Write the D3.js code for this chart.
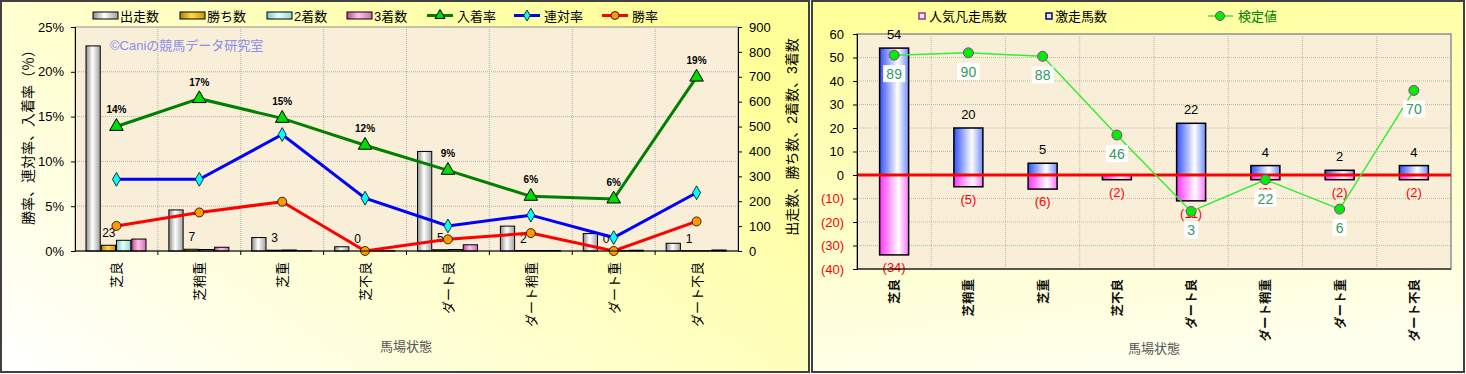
<!DOCTYPE html>
<html>
<head>
<meta charset="utf-8">
<title>馬場状態別成績</title>
<script src="https://d3js.org/d3.v7.min.js"></script>
<style>
  body { margin: 0; background: #fff; }
  svg text { font-family: "Liberation Sans", "Noto Sans CJK JP", sans-serif; }
</style>
</head>
<body>
<script>
// ---- data ----
var categories = ['芝良', '芝稍重', '芝重', '芝不良', 'ダート良', 'ダート稍重', 'ダート重', 'ダート不良'];

// left chart: counts
var runs   = [824, 165, 54, 17, 400, 100, 70, 31];
var wins   = [23, 7, 3, 0, 5, 2, 0, 1];
var second = [43, 6, 4, 1, 6, 2, 1, 1];
var third  = [48, 15, 1, 1, 25, 2, 3, 4];
// left chart: rates (%)
var placeRate   = [13.9, 17.0, 14.8, 11.8, 9.0, 6.1, 5.8, 19.4];
var rentaiRate  = [8.0, 8.0, 13.0, 5.9, 2.8, 4.0, 1.5, 6.5];
var winRate     = [2.8, 4.3, 5.5, 0, 1.3, 2.0, 0, 3.3];
var placeLabels = ['14%', '17%', '15%', '12%', '9%', '6%', '6%', '19%'];

var pctTicks = [0, 5, 10, 15, 20, 25];
var cntTicks = [0, 100, 200, 300, 400, 500, 600, 700, 800, 900];

// right chart
var gekisou   = [54, 20, 5, 0, 22, 4, 2, 4];
var bonsou    = [-34, -5, -6, -2, -11, -2, -2, -2];
var kenteiPos = [51, 52, 50.5, 17, -15.5, -2, -14.5, 36];
var kenteiVal = [89, 90, 88, 46, 3, 22, 6, 70];
var rightTicks = [-40, -30, -20, -10, 0, 10, 20, 30, 40, 50, 60];

var W = 1466, H = 374;
var svg = d3.select('body').append('svg').attr('width', W).attr('height', H);
var defs = svg.append('defs');

function cyl(id, c0, c1, c2, mid) {
  var g = defs.append('linearGradient').attr('id', id).attr('x1', 0).attr('x2', 1).attr('y1', 0).attr('y2', 0);
  g.append('stop').attr('offset', 0).attr('stop-color', c0);
  g.append('stop').attr('offset', mid || 0.5).attr('stop-color', c1);
  g.append('stop').attr('offset', 1).attr('stop-color', c2);
}
cyl('gSilver', '#8c8c8c', '#ffffff', '#a0a0a0', 0.45);
cyl('gGold', '#b08000', '#ffd84a', '#c89a00', 0.45);
cyl('gCyan', '#78c8c8', '#e6ffff', '#90d8d8', 0.45);
cyl('gPink', '#c04890', '#ffc4ea', '#d070b0', 0.45);
cyl('gBlue', '#3050ff', '#ffffff', '#6f8cff', 0.62);
cyl('gMag', '#ff30ff', '#ffffff', '#ff70ff', 0.65);

var bgL = defs.append('linearGradient').attr('id', 'bgL').attr('x1', 0).attr('y1', 1).attr('x2', 1).attr('y2', 0.3);
bgL.append('stop').attr('offset', 0).attr('stop-color', '#ffffff');
bgL.append('stop').attr('offset', 1).attr('stop-color', '#ffff99');
var bgR = defs.append('linearGradient').attr('id', 'bgR').attr('x1', 0.2).attr('y1', 0).attr('x2', 0.4).attr('y2', 1);
bgR.append('stop').attr('offset', 0).attr('stop-color', '#ffff99');
bgR.append('stop').attr('offset', 1).attr('stop-color', '#ffffee');

// panels
svg.append('rect').attr('x', 1).attr('y', 1).attr('width', 808).attr('height', 371)
  .attr('fill', 'url(#bgL)').attr('stroke', '#404040').attr('stroke-width', 2);
svg.append('rect').attr('x', 812).attr('y', 1).attr('width', 652).attr('height', 371)
  .attr('fill', 'url(#bgR)').attr('stroke', '#404040').attr('stroke-width', 2);

// ================= LEFT CHART =================
var x = d3.scaleBand().domain(categories).range([75, 738]);
var yPct = d3.scaleLinear().domain([0, 25]).range([251, 27]);
var yCnt = d3.scaleLinear().domain([0, 900]).range([251, 27]);
var barKeys = ['runs', 'wins', 'second', 'third'];
var sub = d3.scaleBand().domain(barKeys).range([11, 72]);
var barFill = { runs: 'url(#gSilver)', wins: 'url(#gGold)', second: 'url(#gCyan)', third: 'url(#gPink)' };
var barData = { runs: runs, wins: wins, second: second, third: third };

var L = svg.append('g');
L.append('rect').attr('x', 75).attr('y', 27).attr('width', 663).attr('height', 224)
  .attr('fill', '#f9eed8').attr('stroke', '#909090');

// grid
L.append('g').selectAll('line.h').data(pctTicks.slice(1, -1)).enter().append('line')
  .attr('x1', 75).attr('x2', 738).attr('y1', function(d) { return yPct(d); }).attr('y2', function(d) { return yPct(d); })
  .attr('stroke', '#b0b0b0').attr('stroke-dasharray', '1,1');
L.append('g').selectAll('line.v').data(categories.slice(1)).enter().append('line')
  .attr('x1', function(d) { return x(d); }).attr('x2', function(d) { return x(d); })
  .attr('y1', 27).attr('y2', 251)
  .attr('stroke', '#b0b0b0').attr('stroke-dasharray', '1,1');

L.append('text').attr('x', 110).attr('y', 50).attr('fill', '#8a8cf0').attr('font-size', 13)
  .text('©Caniの競馬データ研究室');

// bars
barKeys.forEach(function(k) {
  L.append('g').selectAll('rect').data(categories).enter().append('rect')
    .attr('x', function(d) { return x(d) + sub(k); })
    .attr('width', sub.bandwidth() - 1)
    .attr('y', function(d, i) { return yCnt(barData[k][i]); })
    .attr('height', function(d, i) { return 251 - yCnt(barData[k][i]); })
    .attr('fill', barFill[k]).attr('stroke', '#000').attr('stroke-width', 1);
});
// win count labels
L.append('g').selectAll('text').data(categories).enter().append('text')
  .attr('x', function(d) { return x(d) + sub('wins') + sub.bandwidth() / 2; })
  .attr('y', function(d, i) { return yCnt(wins[i]) - 8; })
  .attr('text-anchor', 'middle').attr('font-size', 12).attr('fill', '#000')
  .text(function(d, i) { return wins[i]; });

var cx = function(d) { return x(d) + x.bandwidth() / 2; };
function drawLine(vals, color) {
  L.append('path').datum(vals)
    .attr('d', d3.line().x(function(d, i) { return cx(categories[i]); }).y(function(d) { return yPct(d); }))
    .attr('fill', 'none').attr('stroke', color).attr('stroke-width', 3);
}
drawLine(placeRate, '#008000');
drawLine(rentaiRate, '#0000ff');
drawLine(winRate, '#ff0000');

var tri = d3.symbol().type(d3.symbolTriangle).size(80);
var dia = d3.symbol().type(d3.symbolDiamond).size(55);
L.append('g').selectAll('path').data(placeRate).enter().append('path')
  .attr('d', tri).attr('transform', function(d, i) { return 'translate(' + cx(categories[i]) + ',' + yPct(d) + ')'; })
  .attr('fill', '#00dd00').attr('stroke', '#000');
L.append('g').selectAll('path').data(rentaiRate).enter().append('path')
  .attr('d', dia).attr('transform', function(d, i) { return 'translate(' + cx(categories[i]) + ',' + yPct(d) + ')'; })
  .attr('fill', '#00ffff').attr('stroke', '#000').attr('stroke-width', 0.8);
L.append('g').selectAll('circle').data(winRate).enter().append('circle')
  .attr('cx', function(d, i) { return cx(categories[i]); }).attr('cy', function(d) { return yPct(d); })
  .attr('r', 4.5).attr('fill', '#ff9900').attr('stroke', '#000').attr('stroke-width', 0.8);
L.append('g').selectAll('text').data(placeRate).enter().append('text')
  .attr('x', function(d, i) { return cx(categories[i]); }).attr('y', function(d) { return yPct(d) - 13; })
  .attr('text-anchor', 'middle').attr('font-size', 10).attr('font-weight', 'bold')
  .text(function(d, i) { return placeLabels[i]; });

// axes
var axL = L.append('g').attr('transform', 'translate(75,0)')
  .call(d3.axisLeft(yPct).tickValues(pctTicks).tickSize(4).tickFormat(function(d) { return d + '%'; }));
axL.select('.domain').attr('stroke', '#000');
axL.selectAll('text').attr('font-size', 13).attr('fill', '#000').attr('dx', '-4');
var axR = L.append('g').attr('transform', 'translate(738,0)')
  .call(d3.axisRight(yCnt).tickValues(cntTicks).tickSize(4));
axR.select('.domain').attr('stroke', '#000');
axR.selectAll('text').attr('font-size', 13).attr('fill', '#000').attr('dx', '4');
L.append('line').attr('x1', 75).attr('x2', 738).attr('y1', 251).attr('y2', 251).attr('stroke', '#000');
L.append('g').selectAll('line').data(categories.slice(1)).enter().append('line')
  .attr('x1', function(d) { return x(d); }).attr('x2', function(d) { return x(d); })
  .attr('y1', 251).attr('y2', 255).attr('stroke', '#000');

L.append('g').selectAll('text').data(categories).enter().append('text')
  .attr('transform', function(d) { return 'translate(' + (cx(d) + 5) + ',262) rotate(-90)'; })
  .attr('text-anchor', 'end').attr('font-size', 13).attr('fill', '#000')
  .text(function(d) { return d; });

L.append('text').attr('transform', 'translate(33,134) rotate(-90)').attr('text-anchor', 'middle')
  .attr('font-size', 14).attr('fill', '#000').text('勝率、連対率、入着率（％）');
L.append('text').attr('transform', 'translate(797,137) rotate(-90)').attr('text-anchor', 'middle')
  .attr('font-size', 14).attr('fill', '#000').text('出走数、勝ち数、2着数、3着数');
L.append('text').attr('x', 406).attr('y', 351).attr('text-anchor', 'middle')
  .attr('font-size', 13).attr('fill', '#555').text('馬場状態');

// legend left
var legBars = [
  { label: '出走数', fill: 'url(#gSilver)', x: 93 },
  { label: '勝ち数', fill: 'url(#gGold)', x: 180 },
  { label: '2着数', fill: 'url(#gCyan)', x: 267 },
  { label: '3着数', fill: 'url(#gPink)', x: 347 }
];
legBars.forEach(function(d) {
  L.append('rect').attr('x', d.x).attr('y', 12).attr('width', 25).attr('height', 7)
    .attr('fill', d.fill).attr('stroke', '#000');
  L.append('text').attr('x', d.x + 27).attr('y', 21).attr('font-size', 13).text(d.label);
});
var legLines = [
  { label: '入着率', color: '#008000', x: 427, m: 'tri' },
  { label: '連対率', color: '#0000ff', x: 514, m: 'dia' },
  { label: '勝率', color: '#ff0000', x: 602, m: 'cir' }
];
legLines.forEach(function(d) {
  L.append('line').attr('x1', d.x).attr('x2', d.x + 26).attr('y1', 15.5).attr('y2', 15.5)
    .attr('stroke', d.color).attr('stroke-width', 3);
  var t = 'translate(' + (d.x + 13) + ',15.5)';
  if (d.m === 'tri') L.append('path').attr('d', d3.symbol().type(d3.symbolTriangle).size(45)).attr('transform', t).attr('fill', '#00dd00').attr('stroke', '#000');
  if (d.m === 'dia') L.append('path').attr('d', d3.symbol().type(d3.symbolDiamond).size(35)).attr('transform', t).attr('fill', '#00ffff').attr('stroke', '#000').attr('stroke-width', 0.8);
  if (d.m === 'cir') L.append('circle').attr('cx', d.x + 13).attr('cy', 15.5).attr('r', 4).attr('fill', '#ff9900').attr('stroke', '#000').attr('stroke-width', 0.8);
  L.append('text').attr('x', d.x + 30).attr('y', 21).attr('font-size', 13).text(d.label);
});

// ================= RIGHT CHART =================
var x2 = d3.scaleBand().domain(categories).range([857, 1451]);
var y2 = d3.scaleLinear().domain([-40, 60]).range([269, 34]);
var R = svg.append('g');
R.append('rect').attr('x', 857).attr('y', 34).attr('width', 594).attr('height', 235)
  .attr('fill', '#f9eed8').attr('stroke', '#909090').attr('stroke-width', 1.5);
R.append('g').selectAll('line').data(rightTicks.slice(1, -1)).enter().append('line')
  .attr('x1', 857).attr('x2', 1451).attr('y1', function(d) { return y2(d); }).attr('y2', function(d) { return y2(d); })
  .attr('stroke', '#c0b8a8').attr('stroke-dasharray', '1,1');
R.append('g').selectAll('line.v').data(categories.slice(1)).enter().append('line')
  .attr('x1', function(d) { return x2(d); }).attr('x2', function(d) { return x2(d); })
  .attr('y1', 34).attr('y2', 269)
  .attr('stroke', '#c0b8a8').attr('stroke-dasharray', '1,1');

var bw = 29;
var bx = function(d) { return x2(d) + (x2.bandwidth() - bw) / 2; };
var cx2 = function(d) { return x2(d) + x2.bandwidth() / 2; };
R.append('g').selectAll('rect').data(categories).enter().append('rect')
  .attr('x', bx).attr('width', bw)
  .attr('y', function(d, i) { return y2(gekisou[i]); })
  .attr('height', function(d, i) { return y2(0) - y2(gekisou[i]); })
  .attr('fill', 'url(#gBlue)').attr('stroke', '#000').attr('stroke-width', 1.5);
R.append('g').selectAll('rect').data(categories).enter().append('rect')
  .attr('x', bx).attr('width', bw)
  .attr('y', y2(0))
  .attr('height', function(d, i) { return y2(bonsou[i]) - y2(0); })
  .attr('fill', 'url(#gMag)').attr('stroke', '#000').attr('stroke-width', 1.5);

R.append('g').selectAll('text').data(categories).enter().append('text')
  .attr('x', cx2).attr('y', function(d, i) { return y2(gekisou[i]) - 9; })
  .attr('text-anchor', 'middle').attr('font-size', 13).attr('fill', '#000')
  .text(function(d, i) { return gekisou[i] === 0 ? '' : gekisou[i]; });
R.append('g').selectAll('text').data(categories).enter().append('text')
  .attr('x', cx2).attr('y', function(d, i) { return y2(bonsou[i]) + 17; })
  .attr('text-anchor', 'middle').attr('font-size', 13).attr('fill', '#ff0000')
  .text(function(d, i) { return '(' + (-bonsou[i]) + ')'; });

R.append('line').attr('x1', 857).attr('x2', 1451).attr('y1', y2(0)).attr('y2', y2(0))
  .attr('stroke', '#ff0000').attr('stroke-width', 3);

// 検定値 line
R.append('path').datum(kenteiPos)
  .attr('d', d3.line().x(function(d, i) { return cx2(categories[i]); }).y(function(d) { return y2(d); }))
  .attr('fill', 'none').attr('stroke', '#33ee33').attr('stroke-width', 1.5);
R.append('g').selectAll('circle').data(kenteiPos).enter().append('circle')
  .attr('cx', function(d, i) { return cx2(categories[i]); }).attr('cy', function(d) { return y2(d); })
  .attr('r', 5).attr('fill', '#00ee00').attr('stroke', '#993399').attr('stroke-width', 1);
var kl = R.append('g').selectAll('g').data(kenteiPos).enter().append('g')
  .attr('transform', function(d, i) { return 'translate(' + cx2(categories[i]) + ',' + (y2(d) + 19) + ')'; });
kl.append('rect').attr('x', function(d, i) { return String(kenteiVal[i]).length > 1 ? -11 : -7; })
  .attr('width', function(d, i) { return String(kenteiVal[i]).length > 1 ? 22 : 14; })
  .attr('y', -9).attr('height', 17).attr('fill', '#fff');
kl.append('text').attr('text-anchor', 'middle').attr('y', 5).attr('font-size', 14).attr('fill', '#339966')
  .text(function(d, i) { return kenteiVal[i]; });

var ax2 = R.append('g').attr('transform', 'translate(857,0)')
  .call(d3.axisLeft(y2).tickValues(rightTicks).tickSize(4)
    .tickFormat(function(d) { return d < 0 ? '(' + (-d) + ')' : d; }));
ax2.select('.domain').attr('stroke', '#000');
ax2.selectAll('text').attr('font-size', 13).attr('dx', '-6')
  .attr('fill', function(d) { return d < 0 ? '#ff0000' : '#000'; });
R.append('line').attr('x1', 857).attr('x2', 1451).attr('y1', 269).attr('y2', 269).attr('stroke', '#000');

R.append('g').selectAll('text').data(categories).enter().append('text')
  .attr('transform', function(d) { return 'translate(' + (cx2(d) + 5) + ',279) rotate(-90)'; })
  .attr('text-anchor', 'end').attr('font-size', 12.5).attr('font-weight', 'bold').attr('fill', '#111')
  .text(function(d) { return d; });
R.append('text').attr('x', 1154).attr('y', 353).attr('text-anchor', 'middle')
  .attr('font-size', 13).attr('fill', '#555').text('馬場状態');

// legend right
R.append('rect').attr('x', 919).attr('y', 13).attr('width', 6).attr('height', 6)
  .attr('fill', '#ffe0ff').attr('stroke', '#993399').attr('stroke-width', 1.5);
R.append('text').attr('x', 929).attr('y', 21).attr('font-size', 13).text('人気凡走馬数');
R.append('rect').attr('x', 1046).attr('y', 13).attr('width', 6).attr('height', 6)
  .attr('fill', '#e0e8ff').attr('stroke', '#000080').attr('stroke-width', 1.5);
R.append('text').attr('x', 1055).attr('y', 21).attr('font-size', 13).text('激走馬数');
R.append('line').attr('x1', 1208).attr('x2', 1233).attr('y1', 16).attr('y2', 16).attr('stroke', '#33ee33').attr('stroke-width', 1.5);
R.append('circle').attr('cx', 1220).attr('cy', 16).attr('r', 4.5).attr('fill', '#00ee00').attr('stroke', '#993399');
R.append('text').attr('x', 1238).attr('y', 21).attr('font-size', 13).attr('fill', '#008000').text('検定値');
</script>
</body>
</html>
